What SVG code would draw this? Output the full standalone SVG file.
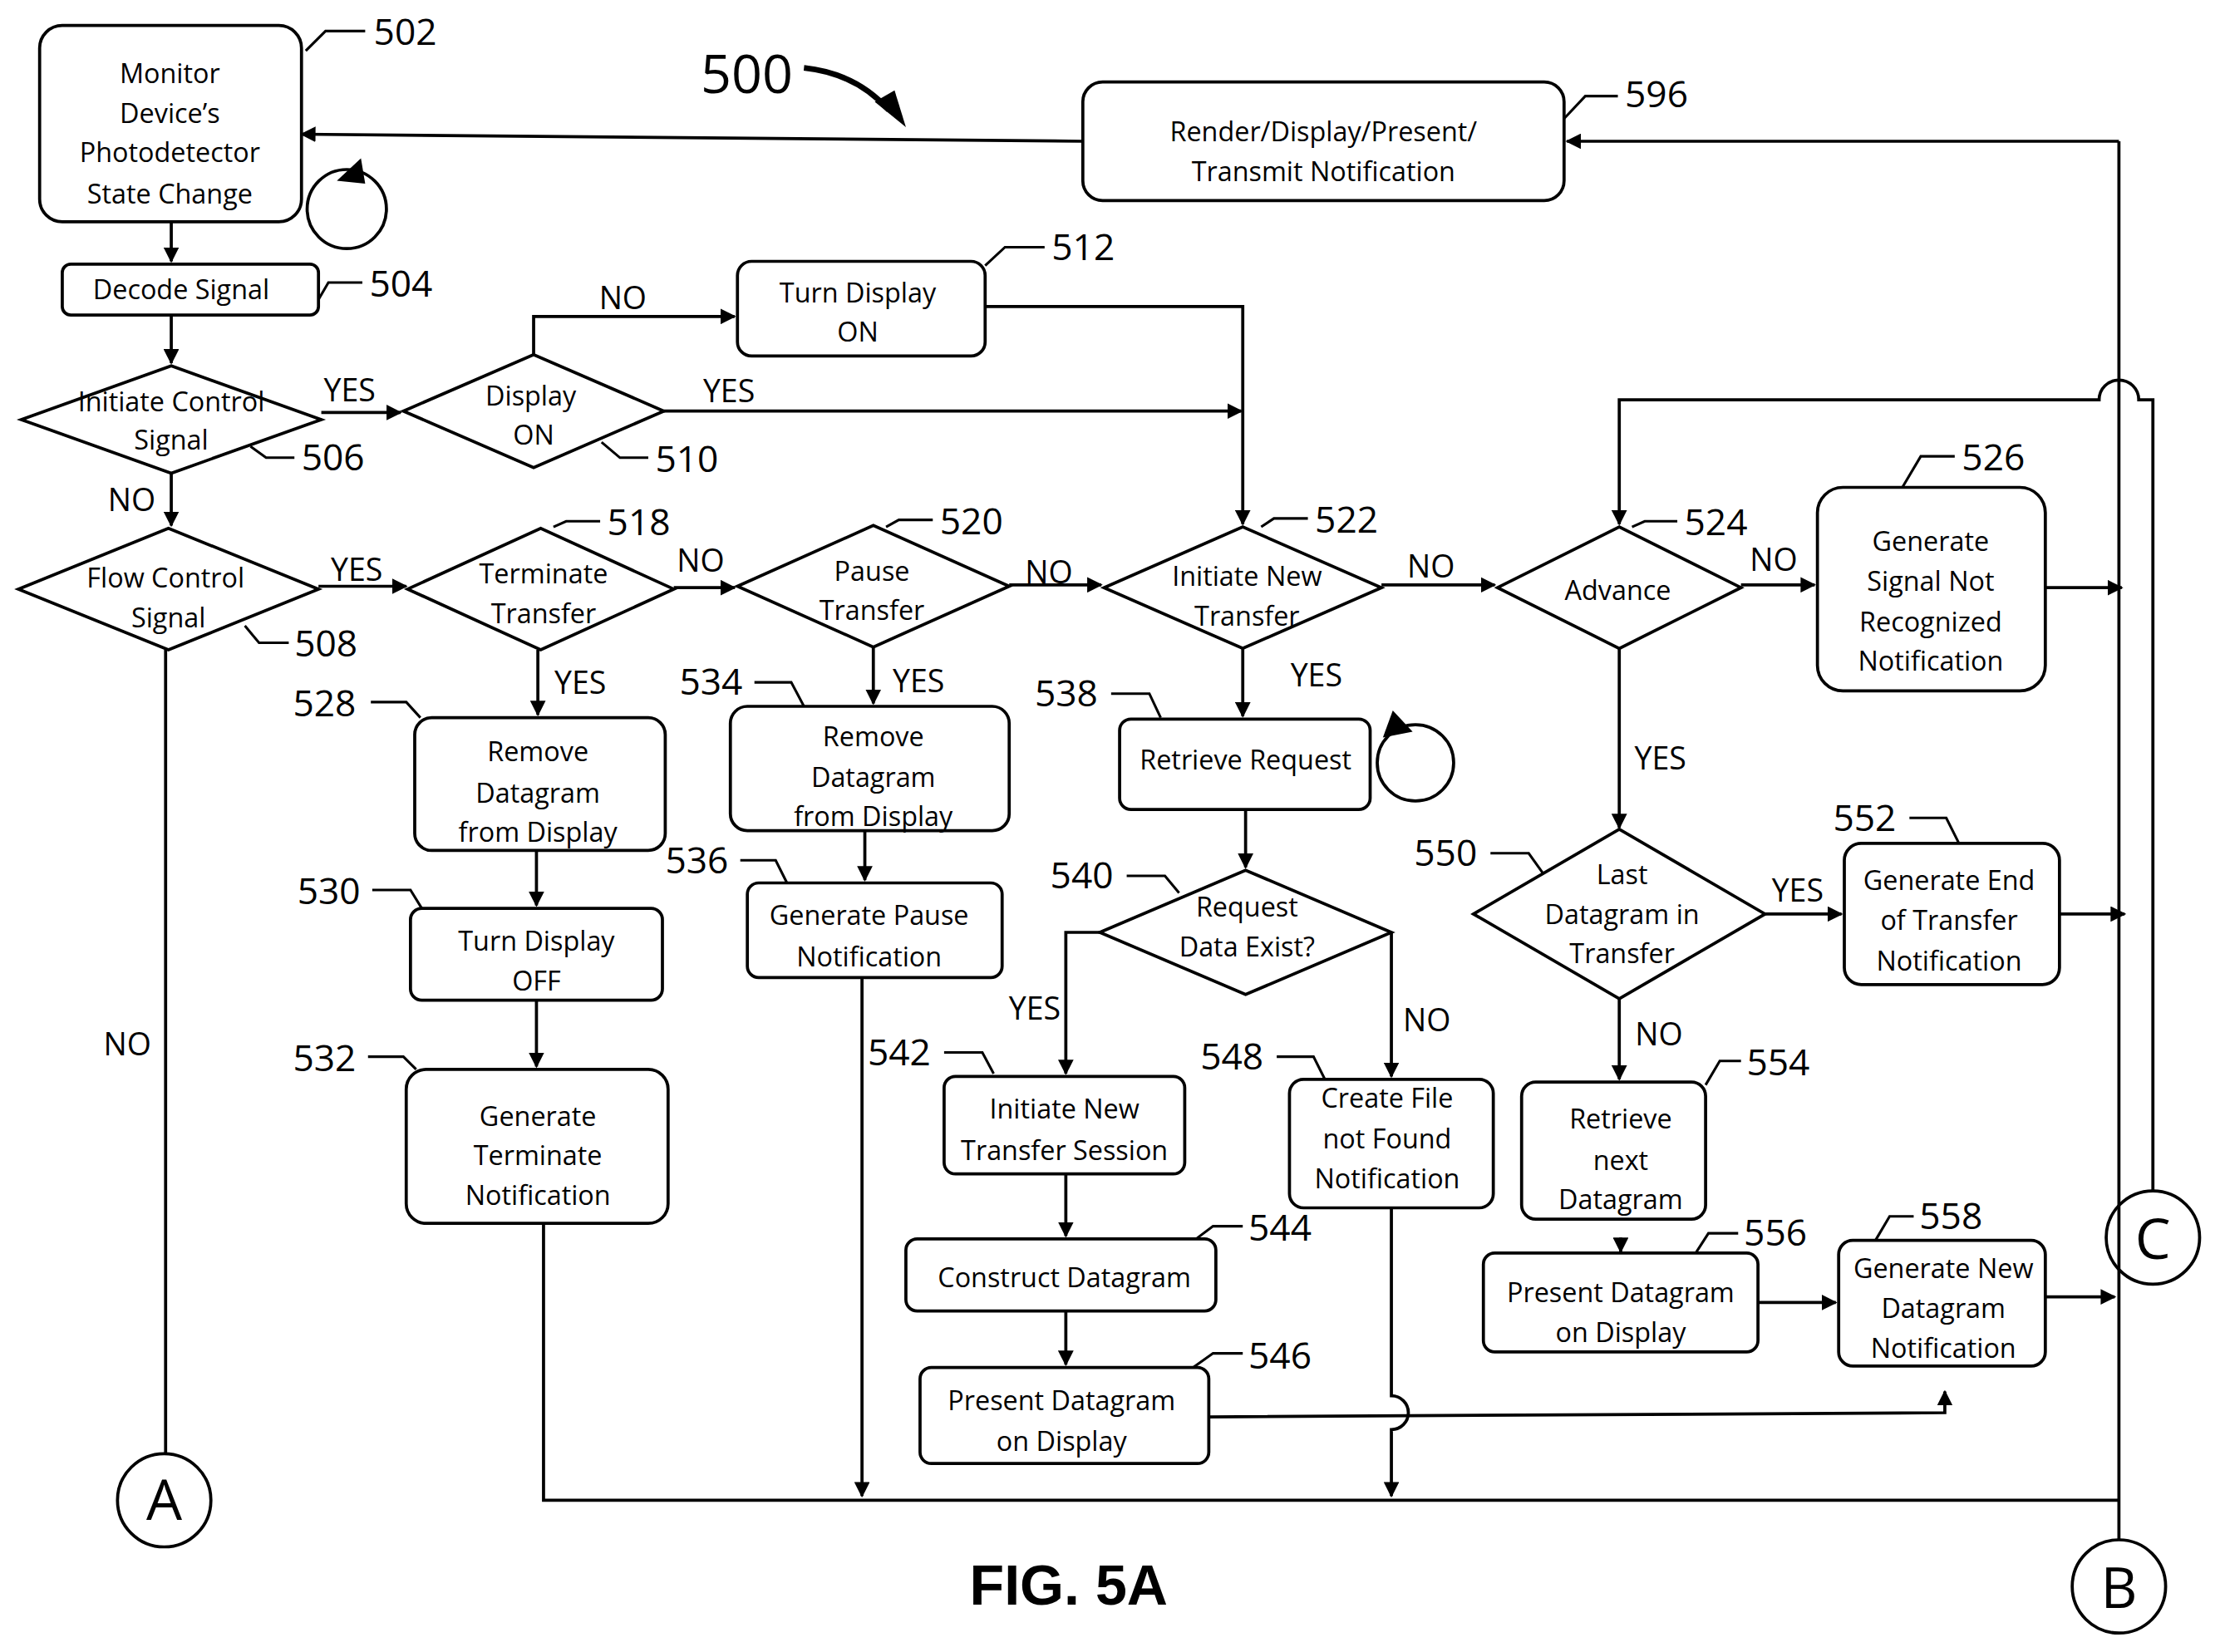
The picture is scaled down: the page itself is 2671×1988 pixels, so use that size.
<svg xmlns="http://www.w3.org/2000/svg" width="2671" height="1988" viewBox="0 0 2671 1988">
<style>
.b{fill:#fff;stroke:#000;stroke-width:2.2}
.t{font-family:"Open Sans",sans-serif;font-size:19px;text-anchor:middle;fill:#000}
.y{font-family:"Open Sans",sans-serif;font-size:22px;text-anchor:middle;fill:#000}
.n{font-family:"Open Sans",sans-serif;font-size:26px;fill:#000}
.c{fill:none;stroke:#000;stroke-width:2.2}
.a{fill:none;stroke:#000;stroke-width:2.2;marker-end:url(#ah)}
.l{fill:none;stroke:#000;stroke-width:1.8}
</style>
<defs>
<marker id="ah" viewBox="0 0 10 10" refX="9" refY="5" markerWidth="5" markerHeight="5" orient="auto"><path d="M0,0L10,5L0,10z"/></marker>
</defs>
<rect width="2671" height="1988" fill="#fff"/>
<g transform="scale(1.703,1.700)">
<g id="n502"><rect class="b" x="28" y="18" width="185" height="139" rx="16"/><text class="t" x="120" y="59">Monitor</text><text class="t" x="120" y="87">Device’s</text><text class="t" x="120" y="115">Photodetector</text><text class="t" x="120" y="144">State Change</text><circle class="c" cx="245" cy="148" r="28"/><path d="M238,128L255,112L258,130z"/></g>
<g id="n504"><rect class="b" x="44" y="187" width="181" height="36" rx="6"/><text class="t" x="128" y="212">Decode Signal</text></g>
<g id="n506"><polygon class="b" points="15,297 121,259 227,297 121,335"/><text class="t" x="121" y="291">Initiate Control</text><text class="t" x="121" y="318">Signal</text></g>
<g id="n510"><polygon class="b" points="285,291 377,251 469,291 377,331"/><text class="t" x="375" y="287">Display</text><text class="t" x="377" y="315">ON</text></g>
<g id="n512"><rect class="b" x="521" y="185" width="175" height="67" rx="10"/><text class="t" x="606" y="214">Turn Display</text><text class="t" x="606" y="242">ON</text></g>
<g id="n596"><rect class="b" x="765" y="58" width="340" height="84" rx="14"/><text class="t" x="935" y="100">Render/Display/Present/</text><text class="t" x="935" y="128">Transmit Notification</text></g>
<g id="n508"><polygon class="b" points="13,417 119,374 225,417 119,460"/><text class="t" x="117" y="416">Flow Control</text><text class="t" x="119" y="444">Signal</text></g>
<g id="n518"><polygon class="b" points="288,417 382,374 476,417 382,460"/><text class="t" x="384" y="413">Terminate</text><text class="t" x="384" y="441">Transfer</text></g>
<g id="n520"><polygon class="b" points="521,415 617,372 713,415 617,458"/><text class="t" x="616" y="411">Pause</text><text class="t" x="616" y="439">Transfer</text></g>
<g id="n522"><polygon class="b" points="780,416 878,373 976,416 878,459"/><text class="t" x="881" y="415">Initiate New</text><text class="t" x="881" y="443">Transfer</text></g>
<g id="n524"><polygon class="b" points="1058,416 1144,373 1230,416 1144,459"/><text class="t" x="1143" y="425">Advance</text></g>
<g id="n526"><rect class="b" x="1284" y="345" width="161" height="144" rx="18"/><text class="t" x="1364" y="390">Generate</text><text class="t" x="1364" y="418">Signal Not</text><text class="t" x="1364" y="447">Recognized</text><text class="t" x="1364" y="475">Notification</text></g>
<g id="n528"><rect class="b" x="293" y="508" width="177" height="94" rx="12"/><text class="t" x="380" y="539">Remove</text><text class="t" x="380" y="568">Datagram</text><text class="t" x="380" y="596">from Display</text></g>
<g id="n534"><rect class="b" x="516" y="500" width="197" height="88" rx="12"/><text class="t" x="617" y="528">Remove</text><text class="t" x="617" y="557">Datagram</text><text class="t" x="617" y="585">from Display</text></g>
<g id="n538"><rect class="b" x="791" y="509" width="177" height="64" rx="8"/><text class="t" x="880" y="545">Retrieve Request</text><circle class="c" cx="1000" cy="540" r="27"/><path d="M977,522L984,503L998,518z"/></g>
<g id="n530"><rect class="b" x="290" y="643" width="178" height="65" rx="8"/><text class="t" x="379" y="673">Turn Display</text><text class="t" x="379" y="701">OFF</text></g>
<g id="n536"><rect class="b" x="528" y="625" width="180" height="67" rx="8"/><text class="t" x="614" y="655">Generate Pause</text><text class="t" x="614" y="684">Notification</text></g>
<g id="n540"><polygon class="b" points="777,660 880,616 983,660 880,704"/><text class="t" x="881" y="649">Request</text><text class="t" x="881" y="677">Data Exist?</text></g>
<g id="n550"><polygon class="b" points="1041,647 1144,587 1247,647 1144,707"/><text class="t" x="1146" y="626">Last</text><text class="t" x="1146" y="654">Datagram in</text><text class="t" x="1146" y="682">Transfer</text></g>
<g id="n552"><rect class="b" x="1303" y="597" width="152" height="100" rx="12"/><text class="t" x="1377" y="630">Generate End</text><text class="t" x="1377" y="658">of Transfer</text><text class="t" x="1377" y="687">Notification</text></g>
<g id="n532"><rect class="b" x="287" y="757" width="185" height="109" rx="14"/><text class="t" x="380" y="797">Generate</text><text class="t" x="380" y="825">Terminate</text><text class="t" x="380" y="853">Notification</text></g>
<g id="n542"><rect class="b" x="667" y="762" width="170" height="69" rx="8"/><text class="t" x="752" y="792">Initiate New</text><text class="t" x="752" y="821">Transfer Session</text></g>
<g id="n548"><rect class="b" x="911" y="764" width="144" height="91" rx="10"/><text class="t" x="980" y="784">Create File</text><text class="t" x="980" y="813">not Found</text><text class="t" x="980" y="841">Notification</text></g>
<g id="n554"><rect class="b" x="1075" y="766" width="130" height="97" rx="10"/><text class="t" x="1145" y="799">Retrieve</text><text class="t" x="1145" y="828">next</text><text class="t" x="1145" y="856">Datagram</text></g>
<g id="n544"><rect class="b" x="640" y="877" width="219" height="51" rx="8"/><text class="t" x="752" y="911">Construct Datagram</text></g>
<g id="n556"><rect class="b" x="1048" y="887" width="194" height="70" rx="8"/><text class="t" x="1145" y="922">Present Datagram</text><text class="t" x="1145" y="950">on Display</text></g>
<g id="n558"><rect class="b" x="1299" y="878" width="146" height="89" rx="10"/><text class="t" x="1373" y="905">Generate New</text><text class="t" x="1373" y="933">Datagram</text><text class="t" x="1373" y="961">Notification</text></g>
<g id="n546"><rect class="b" x="650" y="968" width="204" height="68" rx="8"/><text class="t" x="750" y="998">Present Datagram</text><text class="t" x="750" y="1027">on Display</text></g>
<g id="A"><circle class="b" cx="116" cy="1062" r="33"/><text class="t" x="116" y="1076" style="font-size:40px">A</text></g>
<g id="B"><circle class="b" cx="1497" cy="1123" r="33"/><text class="t" x="1497" y="1138" style="font-size:40px">B</text></g>
<g id="C"><circle class="b" cx="1521" cy="876" r="33"/><text class="t" x="1521" y="891" style="font-size:40px">C</text></g>
<g id="connectors">
<path class="a" d="M121,157V185"/>
<path class="a" d="M121,223V257"/>
<path class="a" d="M227,292H283"/>
<path class="a" d="M121,335V372"/>
<path class="a" d="M377,251V224H519"/>
<path class="a" d="M469,291H877"/>
<path class="a" d="M696,217H878V371"/>
<path class="a" d="M225,415H287"/>
<path class="c" d="M117,460V1029"/>
<path class="a" d="M476,416H519"/>
<path class="a" d="M713,414H778"/>
<path class="a" d="M976,414H1056"/>
<path class="a" d="M1230,414H1282"/>
<path class="a" d="M380,460V506"/>
<path class="a" d="M617,458V498"/>
<path class="a" d="M878,459V507"/>
<path class="a" d="M379,602V641"/>
<path class="a" d="M611,588V623"/>
<path class="a" d="M379,708V755"/>
<path class="a" d="M880,573V614"/>
<path class="a" d="M777,660H753V760"/>
<path class="a" d="M983,660V762"/>
<path class="a" d="M753,831V875"/>
<path class="a" d="M753,928V966"/>
<path class="a" d="M1144,459V586"/>
<path class="a" d="M1247,647H1301"/>
<path class="a" d="M1144,707V764"/>
<path class="a" d="M1145,876V886"/>
<path class="a" d="M1242,922H1297"/>
<path class="a" d="M1445,918H1494"/>
<path class="a" d="M1455,647H1501"/>
<path class="a" d="M1445,416H1499"/>
<path class="a" d="M854,1003L1374,1000V985"/>
<path class="a" d="M983,855V988a12,12 0 0 1 0,24V1059"/>
<path class="c" d="M384,866V1062H1497"/>
<path class="a" d="M609,692V1059"/>
<path class="c" d="M1497,100V1090"/>
<path class="a" d="M1497,100H1107"/>
<path class="a" d="M765,100L213,95"/>
<path class="a" d="M1521,843V283H1511a14,14 0 0 0 -28,0H1144V371"/>
</g>
<g id="labels">
<text class="y" x="247" y="284">YES</text><text class="y" x="93" y="362">NO</text><text class="y" x="440" y="219">NO</text><text class="y" x="515" y="285">YES</text>
<text class="y" x="252" y="411">YES</text><text class="y" x="90" y="747">NO</text><text class="y" x="495" y="405">NO</text><text class="y" x="741" y="413">NO</text><text class="y" x="1011" y="409">NO</text><text class="y" x="1253" y="404">NO</text>
<text class="y" x="410" y="491">YES</text><text class="y" x="649" y="490">YES</text><text class="y" x="930" y="486">YES</text><text class="y" x="731" y="722">YES</text><text class="y" x="1008" y="730">NO</text>
<text class="y" x="1173" y="545">YES</text><text class="y" x="1270" y="638">YES</text><text class="y" x="1172" y="740">NO</text>
</g>
<g id="refs">
<path class="l" d="M216,36L230,22H258"/><text class="n" x="264" y="32">502</text>
<path class="l" d="M225,212L232,200H256"/><text class="n" x="261" y="210">504</text>
<path class="l" d="M177,316L188,324H208"/><text class="n" x="213" y="333">506</text>
<path class="l" d="M425,313L438,324H458"/><text class="n" x="463" y="334">510</text>
<path class="l" d="M696,188L710,175H738"/><text class="n" x="743" y="184">512</text>
<path class="l" d="M1105,84L1120,68H1143"/><text class="n" x="1148" y="76">596</text>
<path class="l" d="M391,373L400,369H424"/><text class="n" x="429" y="379">518</text>
<path class="l" d="M626,373L635,368H659"/><text class="n" x="664" y="378">520</text>
<path class="l" d="M891,373L900,367H924"/><text class="n" x="929" y="377">522</text>
<path class="l" d="M1153,373L1162,369H1185"/><text class="n" x="1190" y="379">524</text>
<path class="l" d="M1344,345L1357,323H1381"/><text class="n" x="1386" y="333">526</text>
<path class="l" d="M173,443L183,455H204"/><text class="n" x="208" y="465">508</text>
<path class="l" d="M262,497H287L297,508"/><text class="n" x="207" y="507">528</text>
<path class="l" d="M533,483H559L568,500"/><text class="n" x="480" y="492">534</text>
<path class="l" d="M785,491H812L820,508"/><text class="n" x="731" y="500">538</text>
<path class="l" d="M263,630H290L298,643"/><text class="n" x="210" y="640">530</text>
<path class="l" d="M523,609H548L556,625"/><text class="n" x="470" y="618">536</text>
<path class="l" d="M796,620H823L833,632"/><text class="n" x="742" y="629">540</text>
<path class="l" d="M1053,604H1080L1090,618"/><text class="n" x="999" y="613">550</text>
<path class="l" d="M1349,579H1375L1384,597"/><text class="n" x="1295" y="588">552</text>
<path class="l" d="M260,748H285L294,757"/><text class="n" x="207" y="758">532</text>
<path class="l" d="M667,745H694L702,760"/><text class="n" x="613" y="754">542</text>
<path class="l" d="M902,748H928L936,764"/><text class="n" x="848" y="757">548</text>
<path class="l" d="M1205,768L1215,751H1230"/><text class="n" x="1234" y="761">554</text>
<path class="l" d="M845,877L857,868H878"/><text class="n" x="882" y="878">544</text>
<path class="l" d="M1198,887L1207,873H1228"/><text class="n" x="1232" y="882">556</text>
<path class="l" d="M1325,878L1335,861H1352"/><text class="n" x="1356" y="870">558</text>
<path class="l" d="M843,968L857,958H878"/><text class="n" x="882" y="969">546</text>
<text class="n" x="495" y="66" style="font-size:38px">500</text>
<path d="M568,48Q605,52 628,78" fill="none" stroke="#000" stroke-width="4"/><path d="M618,72L640,90L632,64z"/>
<text x="755" y="1136" style="font-family:'Liberation Sans',sans-serif;font-weight:bold;font-size:40px;text-anchor:middle">FIG. 5A</text>
</g>
</g>
</svg>
